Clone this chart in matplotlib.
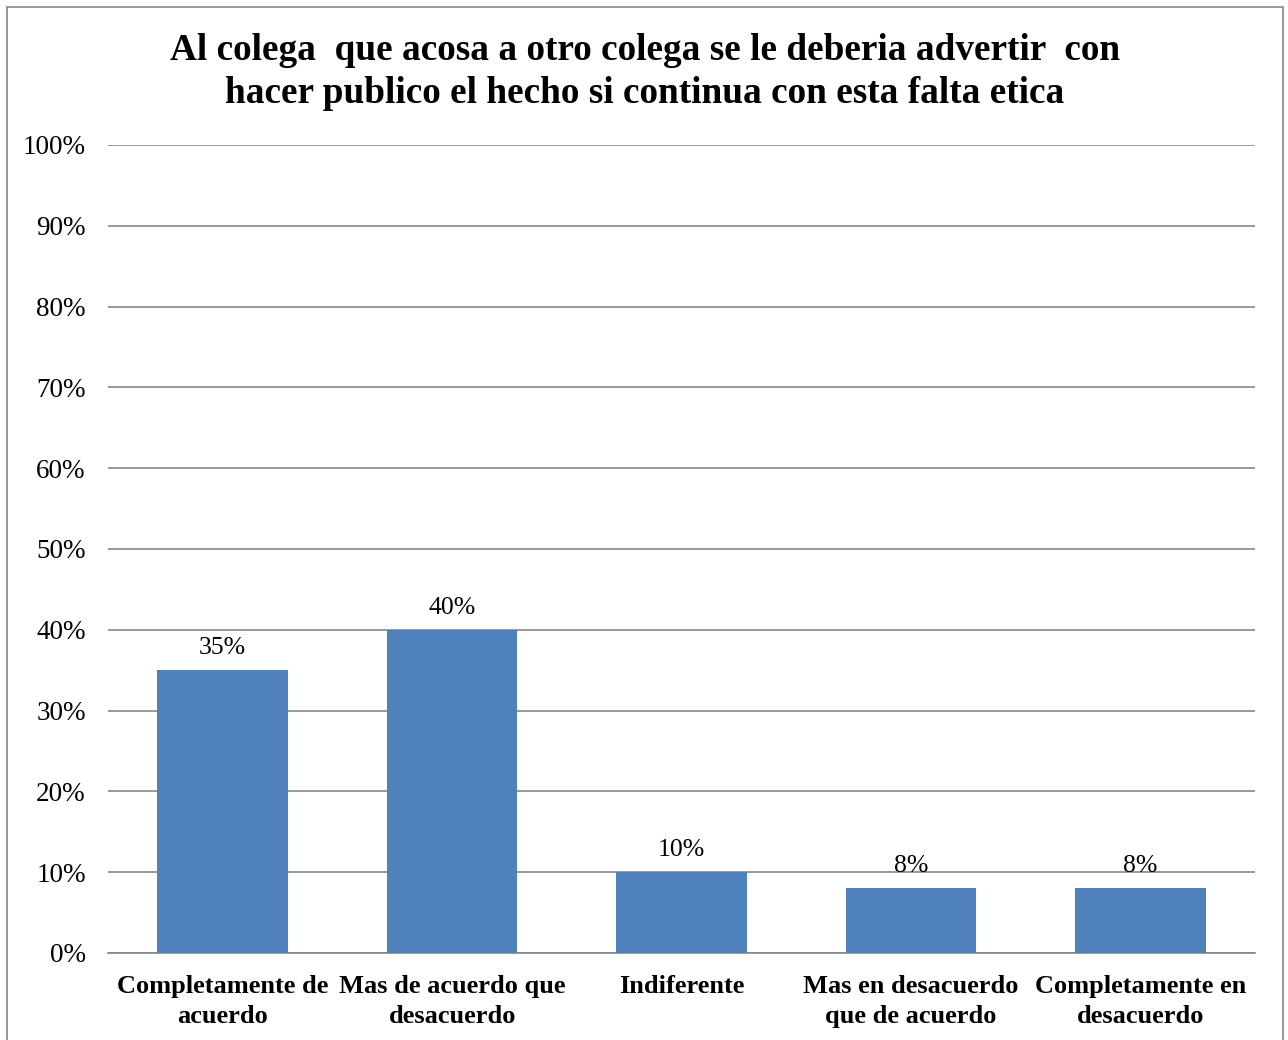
import matplotlib.pyplot as plt
import numpy as np
from matplotlib.patches import Rectangle
from matplotlib.ticker import FuncFormatter

plt.rcParams['font.family'] = ['Liberation Serif', 'DejaVu Serif']

# datos
categorias = ['Completamente de\nacuerdo', 'Mas de acuerdo que\ndesacuerdo', 'Indiferente',
              'Mas en desacuerdo\nque de acuerdo', 'Completamente en\ndesacuerdo']
valores = [0.35, 0.40, 0.10, 0.08, 0.08]
etiquetas = ['35%', '40%', '10%', '8%', '8%']
titulo = 'Al colega  que acosa a otro colega se le deberia advertir  con\nhacer publico el hecho si continua con esta falta etica'

fig = plt.figure(figsize=(12.88, 10.4), dpi=100)
ax = fig.add_axes([108/1288, 1 - 953/1040, (1255-108)/1288, (953-145)/1040])

x = np.arange(len(categorias))
ax.bar(x, valores, width=0.57, color='#4F81BD', zorder=3)
for xi, v, t in zip(x, valores, etiquetas):
    ax.annotate(t, (xi, v), xytext=(0, 8), textcoords='offset points',
                ha='center', va='bottom', fontsize=18.5)

ax.set_xlim(-0.5, len(categorias) - 0.5)
ax.set_ylim(0, 1)
ax.set_yticks(np.arange(0, 1.01, 0.1))
ax.yaxis.set_major_formatter(FuncFormatter(lambda v, p: f'{v*100:.0f}%'))
ax.grid(axis='y', color='#868686', linewidth=1.2, zorder=0)
ax.set_xticks(x)
ax.set_xticklabels(categorias, fontsize=19, fontweight='bold', linespacing=1.38)
ax.tick_params(axis='y', labelsize=19.5, length=0, pad=16)
ax.tick_params(axis='x', length=0, pad=16)
for s in ['top', 'right', 'left']:
    ax.spines[s].set_visible(False)
ax.spines['bottom'].set_color('#868686')
ax.spines['bottom'].set_linewidth(1.2)

fig.text(645/1288, 1 - 72/1040, titulo, ha='center', va='center',
         fontsize=26.8, fontweight='bold', linespacing=1.3)

# borde del grafico
fig.patches.append(Rectangle((7/1288, -0.01), 1276/1288, 1 - 7/1040 + 0.01,
                             transform=fig.transFigure, fill=False,
                             edgecolor='#868686', linewidth=1.2))

fig.savefig('out.png', dpi=100)
